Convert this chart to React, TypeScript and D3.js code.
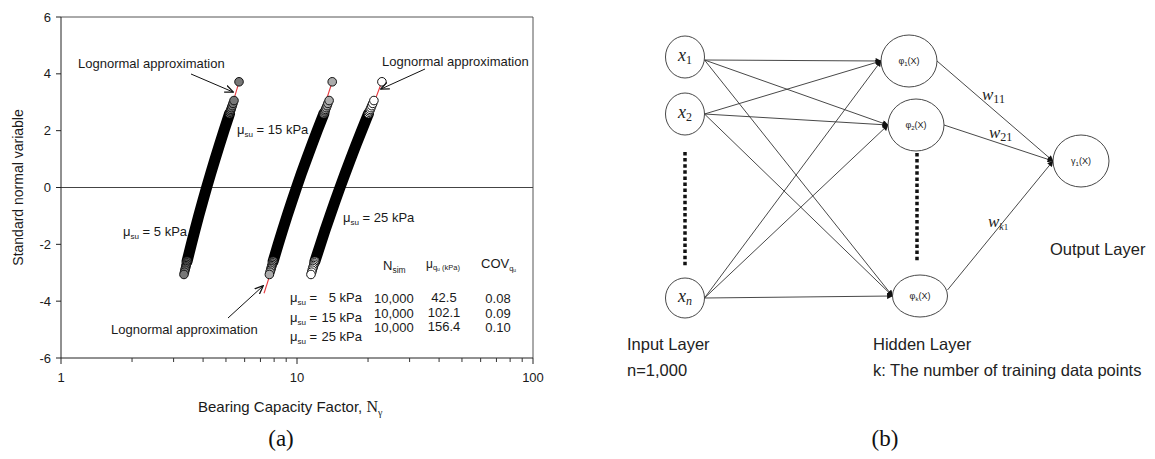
import React from 'react';
import * as d3 from 'd3';

// ---- data ----
// plotting positions (standard normal variable) of the sorted samples, shared by the 3 series
const zLevels = [-3.06, -2.98, -2.91, -2.85, -2.8, -2.75, -2.7, -2.65, -2.6, -2.0, -1.5, -1.0, -0.5, 0, 0.5, 1.0, 1.5, 2.0, 2.55, 2.6, 2.65, 2.7, 2.75, 2.81, 2.88, 2.96, 3.06];
const ngammaMu5 = [3.319, 3.337, 3.352, 3.365, 3.376, 3.387, 3.398, 3.409, 3.421, 3.565, 3.694, 3.832, 3.981, 4.14, 4.312, 4.495, 4.693, 4.904, 5.155, 5.179, 5.203, 5.227, 5.252, 5.281, 5.315, 5.356, 5.408];
const ngammaMu15 = [7.638, 7.686, 7.729, 7.766, 7.797, 7.828, 7.86, 7.891, 7.922, 8.322, 8.686, 9.077, 9.498, 9.954, 10.44, 10.98, 11.56, 12.18, 12.93, 13.0, 13.07, 13.14, 13.21, 13.3, 13.41, 13.52, 13.68];
const ngammaMu25 = [11.46, 11.54, 11.6, 11.66, 11.71, 11.76, 11.81, 11.86, 11.91, 12.57, 13.15, 13.79, 14.47, 15.21, 16.0, 16.86, 17.78, 18.78, 19.97, 20.09, 20.21, 20.32, 20.44, 20.58, 20.74, 20.94, 21.18];
const zExtreme = 3.72;
const ngammaExtreme = [5.68, 14.1, 22.9];
// lognormal approximation lines: [zStart, NStart, zEnd, NEnd]
const lognormalMu5 = [-2.0, 3.565, 3.72, 5.68];
const lognormalMu15 = [-3.72, 7.25, 3.72, 14.1];
const lognormalMu25 = [-2.0, 12.57, 3.72, 22.9];
const seriesFills = ['#777777', '#ababab', '#ffffff'];

const tableMuSu = ['5', '15', '25'];
const tableNsim = ['10,000', '10,000', '10,000'];
const tableMuQu = ['42.5', '102.1', '156.4'];
const tableCov = ['0.08', '0.09', '0.10'];

const yTickValues = [-6, -4, -2, 0, 2, 4, 6];
const xMajorTicks = [1, 10, 100];

const SANS = '"Liberation Sans", Arial, sans-serif';
const SERIF = '"Liberation Serif", "Times New Roman", serif';

function MuLabel({ x, y, sub, value, size = 13, numEnd }: any) {
  return (
    <g>
      <text x={x} y={y} fontFamily={SANS} fontSize={size} fill="#1a1a1a">
        μ<tspan fontSize={size * 0.62} dy={3}>{sub}</tspan>
        <tspan dy={-3}> = </tspan>
        {numEnd == null ? <tspan>{value} kPa</tspan> : null}
      </text>
      {numEnd != null ? (
        <text x={numEnd} y={y} fontFamily={SANS} fontSize={size} fill="#1a1a1a" textAnchor="end">{value} kPa</text>
      ) : null}
    </g>
  );
}

function ChartA() {
  const x = d3.scaleLog().domain([1, 100]).range([61, 533]);
  const y = d3.scaleLinear().domain([-6, 6]).range([358, 17]);
  const allX = x.ticks();
  const minorX = allX.filter((t) => !xMajorTicks.includes(t));
  const series = [ngammaMu5, ngammaMu15, ngammaMu25];
  const lognormals = [lognormalMu5, lognormalMu15, lognormalMu25];
  const line = d3.line<[number, number]>().x((d) => x(d[0])).y((d) => y(d[1]));
  const R = 4.3;

  return (
    <g>
      <defs>
        <marker id="arrA" viewBox="0 0 10 10" refX="9" refY="5" markerWidth="9" markerHeight="9" markerUnits="userSpaceOnUse" orient="auto">
          <path d="M0,1 L9.5,5 L0,9" fill="none" stroke="#111" strokeWidth="1.4" />
        </marker>
      </defs>
      {/* frame */}
      <line x1={x(1)} x2={x(100)} y1={y(6)} y2={y(6)} stroke="#555" strokeWidth={1} />
      <line x1={x(100)} x2={x(100)} y1={y(6)} y2={y(-6)} stroke="#555" strokeWidth={1} />
      <line x1={x(1)} x2={x(100)} y1={y(0)} y2={y(0)} stroke="#444" strokeWidth={1} />
      {/* axes */}
      <line x1={x(1)} x2={x(1)} y1={y(6)} y2={y(-6)} stroke="#222" strokeWidth={1} />
      <line x1={x(1)} x2={x(100)} y1={y(-6)} y2={y(-6)} stroke="#222" strokeWidth={1} />
      {yTickValues.map((t) => (
        <g key={'yt' + t}>
          <line x1={x(1) - 5} x2={x(1)} y1={y(t)} y2={y(t)} stroke="#222" />
          <text x={x(1) - 10} y={y(t) + 4.5} textAnchor="end" fontFamily={SANS} fontSize={13} fill="#1a1a1a">{t}</text>
        </g>
      ))}
      {xMajorTicks.map((t) => (
        <g key={'xt' + t}>
          <line x1={x(t)} x2={x(t)} y1={y(-6)} y2={y(-6) + 6} stroke="#222" />
          <text x={x(t)} y={y(-6) + 24} textAnchor="middle" fontFamily={SANS} fontSize={13} fill="#1a1a1a">{t}</text>
        </g>
      ))}
      {minorX.map((t) => (
        <line key={'mx' + t} x1={x(t)} x2={x(t)} y1={y(-6)} y2={y(-6) + 4} stroke="#333" />
      ))}
      {/* axis titles */}
      <text transform={`translate(23, ${y(0)}) rotate(-90)`} textAnchor="middle" fontFamily={SANS} fontSize={14} fill="#1a1a1a">Standard normal variable</text>
      <text x={198} y={412} fontFamily={SANS} fontSize={15} fill="#1a1a1a">
        Bearing Capacity Factor, <tspan fontFamily={SERIF} fontSize={16}>N</tspan><tspan fontFamily={SERIF} fontSize={10} dy={4}>γ</tspan>
      </text>

      {/* lognormal approximation lines */}
      {lognormals.map((l, i) => (
        <line key={'ln' + i} x1={x(l[1])} y1={y(l[0])} x2={x(l[3])} y2={y(l[2])} stroke="#e8383d" strokeWidth={1.1} />
      ))}
      {/* dense (overplotted) central part of each series */}
      {series.map((s, i) => {
        const pts: [number, number][] = zLevels.map((z, k) => [s[k], z] as [number, number]).filter((p) => Math.abs(p[1]) <= 2.6);
        return <path key={'core' + i} d={line(pts) || ''} fill="none" stroke="#000" strokeWidth={11} strokeLinecap="round" />;
      })}
      {/* tail points, drawn from the centre outward */}
      {series.map((s, i) => {
        const idx = zLevels.map((z, k) => k).filter((k) => Math.abs(zLevels[k]) >= 2.6);
        const lower = idx.filter((k) => zLevels[k] < 0).reverse();
        const upper = idx.filter((k) => zLevels[k] > 0);
        return (
          <g key={'tail' + i}>
            {[...lower, ...upper].map((k) => (
              <circle key={k} cx={x(s[k])} cy={y(zLevels[k])} r={R} fill={seriesFills[i]} stroke="#111" strokeWidth={1} />
            ))}
            <circle cx={x(ngammaExtreme[i])} cy={y(zExtreme)} r={R} fill={seriesFills[i]} stroke="#111" strokeWidth={1} />
          </g>
        );
      })}

      {/* annotations */}
      <text x={78} y={68} fontFamily={SANS} fontSize={13} fill="#1a1a1a">Lognormal approximation</text>
      <line x1={191} y1={74} x2={233} y2={92} stroke="#111" strokeWidth={1} markerEnd="url(#arrA)" />
      <text x={382} y={66} fontFamily={SANS} fontSize={13} fill="#1a1a1a">Lognormal approximation</text>
      <line x1={425} y1={69} x2={381} y2={89} stroke="#111" strokeWidth={1} markerEnd="url(#arrA)" />
      <text x={111} y={334} fontFamily={SANS} fontSize={13} fill="#1a1a1a">Lognormal approximation</text>
      <line x1={228} y1={318} x2={263} y2={286} stroke="#111" strokeWidth={1} markerEnd="url(#arrA)" />

      <MuLabel x={237} y={134} sub="su" value="15" />
      <MuLabel x={123} y={236} sub="su" value="5" />
      <MuLabel x={343} y={222} sub="su" value="25" />

      {/* table */}
      <text x={383} y={270} fontFamily={SANS} fontSize={13} fill="#1a1a1a">N<tspan fontSize={8.5} dy={3}>sim</tspan></text>
      <text x={426} y={268} fontFamily={SANS} fontSize={12} fill="#1a1a1a">μ<tspan fontSize={7.5} dy={2}>q</tspan><tspan fontSize={5} dy={1}>u</tspan><tspan fontSize={7.5} dy={-1}> (kPa)</tspan></text>
      <text x={481} y={268} fontFamily={SANS} fontSize={13} fill="#1a1a1a">COV<tspan fontSize={7.5} dy={3}>q</tspan><tspan fontSize={5} dy={1}>u</tspan></text>
      {tableMuSu.map((v, i) => (
        <MuLabel key={'row' + i} x={290} y={302 + i * 19.7} sub="su" value={v} numEnd={362} />
      ))}
      {tableNsim.map((v, i) => (
        <text key={'ns' + i} x={374} y={303 + i * 14.5} fontFamily={SANS} fontSize={13} fill="#1a1a1a">{v}</text>
      ))}
      {tableMuQu.map((v, i) => (
        <text key={'mq' + i} x={444} y={302 + i * 14.5} textAnchor="middle" fontFamily={SANS} fontSize={13} fill="#1a1a1a">{v}</text>
      ))}
      {tableCov.map((v, i) => (
        <text key={'cv' + i} x={498} y={303 + i * 14.5} textAnchor="middle" fontFamily={SANS} fontSize={13} fill="#1a1a1a">{v}</text>
      ))}

      <text x={281} y={446} textAnchor="middle" fontFamily={SERIF} fontSize={23} fill="#111">(a)</text>
    </g>
  );
}

// ---- neural network diagram (b) ----
const inputNodes = [
  { id: 'x1', sub: '1', cx: 685, cy: 57, rx: 19.5, ry: 21 },
  { id: 'x2', sub: '2', cx: 685, cy: 114, rx: 19.5, ry: 21 },
  { id: 'xn', sub: 'n', cx: 685, cy: 298, rx: 19.5, ry: 20 },
];
const hiddenNodes = [
  { id: 'p1', sub: '1', cx: 909, cy: 61, rx: 28, ry: 26 },
  { id: 'p2', sub: '2', cx: 916, cy: 125, rx: 28, ry: 26 },
  { id: 'pk', sub: 'k', cx: 920, cy: 296, rx: 27.5, ry: 21 },
];
const outputNode = { id: 'y1', cx: 1081, cy: 161, rx: 28, ry: 26 };

function ChartB() {
  const edgeColor = '#333';
  return (
    <g>
      <defs>
        <marker id="arrB" viewBox="0 0 10 10" refX="9" refY="5" markerWidth="7" markerHeight="6" markerUnits="userSpaceOnUse" orient="auto">
          <path d="M0,0 L10,5 L0,10 Z" fill="#111" />
        </marker>
      </defs>
      {inputNodes.map((a) =>
        hiddenNodes.map((h) => (
          <line key={a.id + h.id} x1={a.cx + a.rx} y1={a.cy + (a.id === 'x1' ? 3 : 0)} x2={h.cx - h.rx} y2={h.cy} stroke={edgeColor} strokeWidth={0.9} markerEnd="url(#arrB)" />
        ))
      )}
      {hiddenNodes.map((h) => (
        <line key={h.id + 'o'} x1={h.cx + h.rx} y1={h.cy - (h.id === 'pk' ? 6 : 0)} x2={outputNode.cx - outputNode.rx} y2={outputNode.cy} stroke={edgeColor} strokeWidth={0.9} markerEnd="url(#arrB)" />
      ))}
      {/* dotted continuation markers */}
      <line x1={685} x2={685} y1={152} y2={266} stroke="#111" strokeWidth={3.5} strokeDasharray="3.5 2.6" />
      <line x1={917} x2={917} y1={153} y2={261} stroke="#111" strokeWidth={3.5} strokeDasharray="3.5 2.6" />
      {/* nodes */}
      {inputNodes.map((a) => (
        <g key={a.id}>
          <ellipse cx={a.cx} cy={a.cy} rx={a.rx} ry={a.ry} fill="#fff" stroke="#333" strokeWidth={0.9} />
          <text x={a.cx} y={a.cy + 4} textAnchor="middle" fontFamily={SERIF} fontSize={18} fill="#222">
            <tspan fontStyle="italic">x</tspan>
            <tspan fontSize={12} dy={3} fontStyle={a.sub === 'n' ? 'italic' : 'normal'}>{a.sub}</tspan>
          </text>
        </g>
      ))}
      {hiddenNodes.map((h) => (
        <g key={h.id}>
          <ellipse cx={h.cx} cy={h.cy} rx={h.rx} ry={h.ry} fill="#fff" stroke="#333" strokeWidth={0.9} />
          <text x={h.cx} y={h.cy + 3} textAnchor="middle" fontFamily={SANS} fontSize={9} fill="#222">
            φ<tspan fontSize={6} dy={2}>{h.sub}</tspan><tspan dy={-2}>(X)</tspan>
          </text>
        </g>
      ))}
      <ellipse cx={outputNode.cx} cy={outputNode.cy} rx={outputNode.rx} ry={outputNode.ry} fill="#fff" stroke="#333" strokeWidth={0.9} />
      <text x={outputNode.cx} y={outputNode.cy + 3} textAnchor="middle" fontFamily={SANS} fontSize={9} fill="#222">
        γ<tspan fontSize={6} dy={2}>1</tspan><tspan dy={-2}>(X)</tspan>
      </text>
      {/* weights */}
      <text x={982} y={100} fontFamily={SERIF} fontSize={17} fill="#222"><tspan fontStyle="italic">w</tspan><tspan fontSize={12} dy={3}>11</tspan></text>
      <text x={989} y={138} fontFamily={SERIF} fontSize={17} fill="#222"><tspan fontStyle="italic">w</tspan><tspan fontSize={12} dy={3}>21</tspan></text>
      <text x={988} y={227} fontFamily={SERIF} fontSize={17} fill="#222"><tspan fontStyle="italic">w</tspan><tspan fontSize={10} dy={3} fontStyle="italic">k</tspan><tspan fontSize={9} >1</tspan></text>
      {/* layer labels */}
      <text x={1050} y={255} fontFamily={SANS} fontSize={16.5} fill="#222">Output Layer</text>
      <text x={627} y={350} fontFamily={SANS} fontSize={16.5} fill="#222">Input Layer</text>
      <text x={627} y={376} fontFamily={SANS} fontSize={16.5} fill="#222">n=1,000</text>
      <text x={873} y={350} fontFamily={SANS} fontSize={16.5} fill="#222">Hidden Layer</text>
      <text x={873} y={376} fontFamily={SANS} fontSize={16.5} fill="#222">k: The number of training data points</text>
      <text x={885} y={446} textAnchor="middle" fontFamily={SERIF} fontSize={23} fill="#111">(b)</text>
    </g>
  );
}

export default function App() {
  return (
    <svg width={1155} height={459} viewBox="0 0 1155 459" style={{ position: 'absolute', left: 0, top: 0, background: '#fff' }}>
      <rect width={1155} height={459} fill="#fff" />
      <ChartA />
      <ChartB />
    </svg>
  );
}
